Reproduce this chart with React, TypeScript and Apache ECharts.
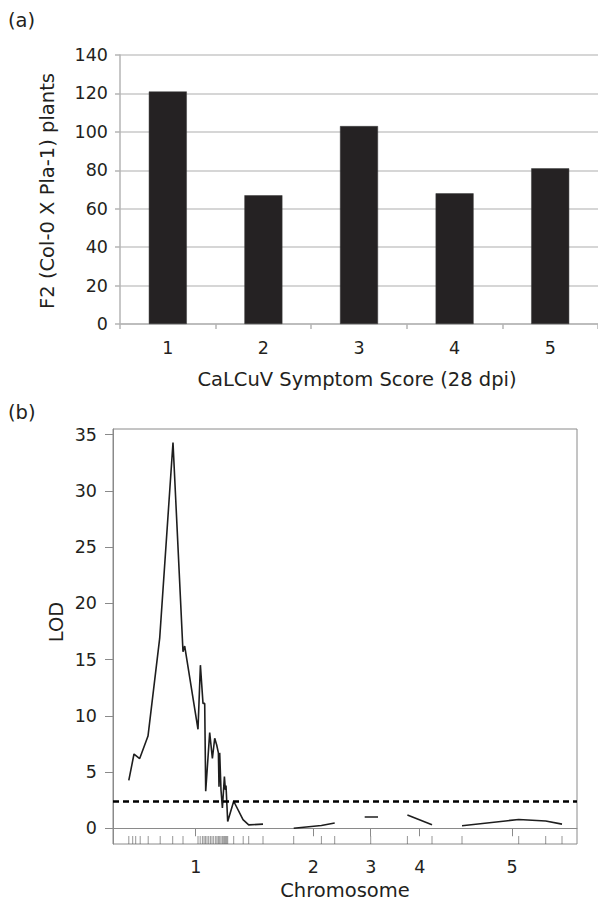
import React, { useEffect, useRef } from "react";
import * as echarts from "echarts";

// ---------- Panel (a) data ----------
const scoreCategories = ["1", "2", "3", "4", "5"];
const plantCounts = [121, 67, 103, 68, 81];
const countMin = 0;
const countMax = 140;
const countInterval = 20;

// ---------- Panel (b) data ----------
const chromosomeNames = ["1", "2", "3", "4", "5"];
const chromosomeCenters = [41.35, 100.1, 128.85, 153.35, 199.5];
const chr1Lod: [number, number][] = [
  [7.9, 4.25], [10.5, 6.6], [13.35, 6.2], [17.5, 8.2], [23.35, 16.9], [30.0, 34.3],
  [35.0, 15.7], [35.85, 16.2], [42.5, 8.8], [43.7, 14.5], [45.0, 11.1], [45.85, 11.1],
  [46.35, 3.3], [48.35, 8.5], [49.7, 6.2], [50.85, 8.0], [51.85, 7.4], [52.7, 6.7],
  [53.0, 3.7], [53.35, 6.7], [54.0, 3.4], [54.7, 1.8], [55.7, 4.6], [56.2, 3.4],
  [56.5, 3.8], [57.35, 0.6], [60.35, 2.4], [65.0, 0.76], [67.85, 0.3], [75.0, 0.37],
];
const chr2Lod: [number, number][] = [[90.35, 0.0], [104.2, 0.25], [110.85, 0.46]];
const chr3Lod: [number, number][] = [[125.85, 1.0], [132.5, 1.0]];
const chr4Lod: [number, number][] = [[147.2, 1.17], [159.5, 0.31]];
const chr5Lod: [number, number][] = [[174.5, 0.22], [202.85, 0.78], [216.35, 0.64], [224.5, 0.37]];
const markerPositions = [
  7.9, 9.85, 11.35, 13.6, 17.6, 23.6, 29.85, 35.0, 42.5, 43.6, 44.7, 45.5, 46.2, 47.0,
  47.85, 48.7, 49.5, 50.35, 51.35, 52.0, 52.7, 53.35, 54.0, 54.7, 55.35, 55.85, 56.35,
  56.85, 57.35, 60.35, 65.1, 67.85, 75.0, 90.35, 104.2, 110.85, 128.85, 147.2, 159.5,
  174.5, 202.85, 216.35, 224.5,
];
const lodThreshold = 2.4;
const lodTicks = [0, 5, 10, 15, 20, 25, 30, 35];
const lodMin = -1.4;
const lodMax = 35.5;
const posMin = 0;
const posMax = 232;

const FONT = '"DejaVu Sans", "Liberation Sans", Arial, sans-serif';
const TEXT = "#231f20";
const TICK_FS = 17.5;
const TITLE_FS = 19.5;

export default function App() {
  const ref = useRef<HTMLDivElement>(null);
  useEffect(() => {
    if (!ref.current) return;
    const chart = echarts.init(ref.current, undefined, { renderer: "svg" });
    const lineStyle = { color: "#1e1e1e", width: 1.6 };
    const chrSeries = [chr1Lod, chr2Lod, chr3Lod, chr4Lod, chr5Lod].map((d, i) => ({
      type: "line",
      xAxisIndex: 1,
      yAxisIndex: 1,
      data: d,
      showSymbol: false,
      symbol: "none",
      lineStyle,
      silent: true,
      z: 3,
      markLine:
        i === 0
          ? {
              silent: true,
              symbol: "none",
              label: { show: false },
              lineStyle: { color: "#000", width: 2.6, type: [6, 4] },
              data: [{ yAxis: lodThreshold }],
            }
          : undefined,
    }));

    chart.setOption({
      animation: false,
      textStyle: { fontFamily: FONT },
      grid: [
        { left: 120, top: 55, right: 0, height: 269 },
        { left: 113, top: 429, width: 464, height: 415, show: true, borderColor: "#8a8a8a", borderWidth: 1 },
      ],
      xAxis: [
        {
          type: "category",
          gridIndex: 0,
          data: scoreCategories,
          axisLine: { lineStyle: { color: "#b5b5b5", width: 1.5 } },
          axisTick: { show: true, length: 5, lineStyle: { color: "#b5b5b5", width: 1.5 } },
          axisLabel: { color: TEXT, fontSize: TICK_FS, margin: 15, fontFamily: FONT },
        },
        {
          type: "value",
          gridIndex: 1,
          min: posMin,
          max: posMax,
          axisLine: { show: true, lineStyle: { color: "#8a8a8a", width: 1 } },
          axisTick: { show: true, length: 8, customValues: chromosomeCenters, lineStyle: { color: "#8a8a8a" } },
          axisLabel: {
            color: TEXT,
            fontSize: TICK_FS,
            margin: 14,
            fontFamily: FONT,
            customValues: chromosomeCenters,
            formatter: (v: number) => {
              const idx = chromosomeCenters.findIndex((c) => Math.abs(c - v) < 0.01);
              return idx >= 0 ? chromosomeNames[idx] : "";
            },
          },
          splitLine: { show: false },
        },
      ],
      yAxis: [
        {
          type: "value",
          gridIndex: 0,
          min: countMin,
          max: countMax,
          interval: countInterval,
          axisLine: { show: true, lineStyle: { color: "#b5b5b5", width: 1.5 } },
          axisTick: { show: true, length: 5, lineStyle: { color: "#b5b5b5", width: 1.5 } },
          axisLabel: { color: TEXT, fontSize: TICK_FS, margin: 12, fontFamily: FONT },
          splitLine: { show: true, lineStyle: { color: "#c9c9c9", width: 1.5 } },
        },
        {
          type: "value",
          gridIndex: 1,
          min: lodMin,
          max: lodMax,
          axisLine: { show: true, lineStyle: { color: "#8a8a8a", width: 1 } },
          axisTick: { show: true, length: 8, customValues: lodTicks, lineStyle: { color: "#8a8a8a" } },
          axisLabel: { color: TEXT, fontSize: TICK_FS, margin: 16, fontFamily: FONT, customValues: lodTicks },
          splitLine: { show: false },
        },
      ],
      series: [
        {
          type: "bar",
          xAxisIndex: 0,
          yAxisIndex: 0,
          data: plantCounts,
          barWidth: 38,
          itemStyle: { color: "#252223", borderColor: "#3a3a3a", borderWidth: 0.5 },
          silent: true,
        },
        ...chrSeries,
        {
          type: "custom",
          xAxisIndex: 1,
          yAxisIndex: 1,
          silent: true,
          data: markerPositions.map((p) => [p, 0]),
          encode: { x: 0, y: 1 },
          renderItem: (_params: any, api: any) => {
            const pt = api.coord([api.value(0), lodMin]);
            return {
              type: "line",
              shape: { x1: pt[0], y1: pt[1], x2: pt[0], y2: pt[1] - 8 },
              style: { stroke: "rgba(80,80,80,0.6)", lineWidth: 1 },
            };
          },
          z: 2,
        },
      ],
      graphic: [
        { type: "text", left: 8, top: 10, style: { text: "(a)", fontSize: TITLE_FS, fill: TEXT, fontFamily: FONT } },
        {
          type: "text",
          x: 47,
          y: 191,
          rotation: Math.PI / 2,
          style: { text: "F2 (Col-0 X Pla-1) plants", fontSize: TITLE_FS, fill: TEXT, fontFamily: FONT, align: "center", verticalAlign: "middle" },
        },
        {
          type: "text",
          x: 357,
          y: 379,
          style: { text: "CaLCuV Symptom Score (28 dpi)", fontSize: TITLE_FS, fill: TEXT, fontFamily: FONT, align: "center", verticalAlign: "middle" },
        },
        { type: "text", left: 8, top: 402, style: { text: "(b)", fontSize: TITLE_FS, fill: TEXT, fontFamily: FONT } },
        {
          type: "text",
          x: 56,
          y: 622,
          rotation: Math.PI / 2,
          style: { text: "LOD", fontSize: TITLE_FS, fill: TEXT, fontFamily: FONT, align: "center", verticalAlign: "middle" },
        },
        {
          type: "text",
          x: 345,
          y: 890,
          style: { text: "Chromosome", fontSize: TITLE_FS, fill: TEXT, fontFamily: FONT, align: "center", verticalAlign: "middle" },
        },
      ],
    });
    return () => chart.dispose();
  }, []);
  return (
    <div
      ref={ref}
      style={{ position: "absolute", left: 0, top: 0, width: 598, height: 903, background: "#fff" }}
    />
  );
}
